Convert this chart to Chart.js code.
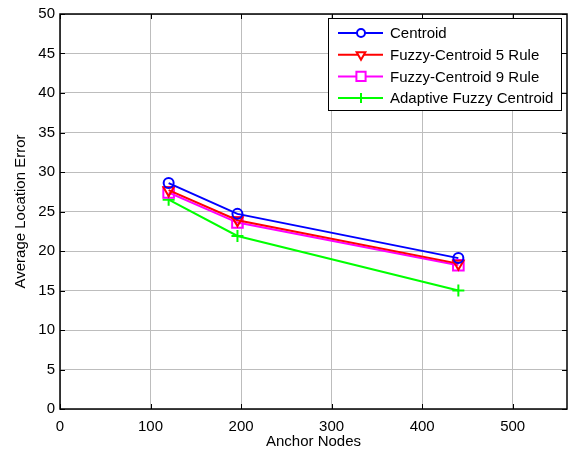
<!DOCTYPE html>
<html>
<head>
<meta charset="utf-8">
<script src="https://cdn.jsdelivr.net/npm/chart.js@4/dist/chart.umd.min.js"></script>
<style>
html,body{margin:0;padding:0;background:#fff;}
#wrap{width:577px;height:457px;position:relative;}
</style>
</head>
<body>
<div id="wrap"><canvas id="c" width="577" height="457"></canvas></div>
<script>
const anchorNodes = [120, 196, 440];
const centroid = [28.6, 24.7, 19.1];
const fuzzy5 = [27.7, 23.9, 18.4];
const fuzzy9 = [27.4, 23.6, 18.2];
const adaptive = [26.5, 21.9, 15.0];
const xTicks = [0, 100, 200, 300, 400, 500];
const yTicks = [0, 5, 10, 15, 20, 25, 30, 35, 40, 45, 50];
const seriesNames = ['Centroid', 'Fuzzy-Centroid 5 Rule', 'Fuzzy-Centroid 9 Rule', 'Adaptive Fuzzy Centroid'];

const FONT = 'Arial, "Liberation Sans", sans-serif';

function pts(vals){ return anchorNodes.map((x,i)=>({x:x,y:vals[i]})); }

const styles = [
  {color:'#0000ff', pointStyle:'circle', rotation:0, radius:5},
  {color:'#ff0000', pointStyle:'triangle', rotation:180, radius:6},
  {color:'#ff00ff', pointStyle:'rect', rotation:0, radius:7.5},
  {color:'#00ff00', pointStyle:'cross', rotation:0, radius:6}
];
const seriesVals = [centroid, fuzzy5, fuzzy9, adaptive];

const datasets = seriesVals.map((v,i)=>({
  label: seriesNames[i],
  data: pts(v),
  borderColor: styles[i].color,
  backgroundColor: 'rgba(0,0,0,0)',
  borderWidth: 2,
  pointStyle: styles[i].pointStyle,
  pointRotation: styles[i].rotation,
  pointRadius: styles[i].radius,
  pointBorderWidth: 2,
  pointBorderColor: styles[i].color,
  pointBackgroundColor: 'rgba(0,0,0,0)',
  tension: 0,
  fill: false
}));

const frame = {
  id:'frame',
  afterDraw(chart){
    const {ctx, chartArea:a} = chart;
    ctx.save();
    ctx.strokeStyle='#000'; ctx.lineWidth=1;
    const xs = chart.scales.x, ys = chart.scales.y;
    xTicks.forEach(t=>{
      const px = Math.round(xs.getPixelForValue(t))+0.5;
      ctx.beginPath(); ctx.moveTo(px,a.bottom); ctx.lineTo(px,a.bottom-5);
      ctx.moveTo(px,a.top); ctx.lineTo(px,a.top+5); ctx.stroke();
    });
    yTicks.forEach(t=>{
      const py = Math.round(ys.getPixelForValue(t))+0.5;
      ctx.beginPath(); ctx.moveTo(a.left,py); ctx.lineTo(a.left+5,py);
      ctx.moveTo(a.right,py); ctx.lineTo(a.right-5,py); ctx.stroke();
    });
    ctx.lineWidth=1.5;
    ctx.strokeRect(a.left, a.top, a.right-a.left, a.bottom-a.top);

    // legend box
    const lx = 328, ly = 18, lw = 233, lh = 92;
    ctx.fillStyle='#fff';
    ctx.fillRect(lx,ly,lw,lh);
    ctx.lineWidth=1;
    ctx.strokeStyle='#000';
    ctx.strokeRect(lx+0.5,ly+0.5,lw,lh);
    ctx.font = '15px ' + FONT;
    ctx.textBaseline='middle';
    ctx.textAlign='left';
    chart.data.datasets.forEach((ds,i)=>{
      const y = ly + 15 + i*21.7;
      ctx.strokeStyle = ds.borderColor; ctx.lineWidth=2;
      ctx.beginPath(); ctx.moveTo(lx+10,y); ctx.lineTo(lx+55,y); ctx.stroke();
      ctx.fillStyle='#fff';
      Chart.helpers.drawPoint(ctx, {pointStyle:ds.pointStyle, rotation:ds.pointRotation, radius:ds.pointRadius-1, borderWidth:2}, lx+33, y);
      ctx.fillStyle='#000';
      ctx.fillText(ds.label, lx+62, y+1);
    });
    ctx.restore();
  }
};

new Chart(document.getElementById('c'), {
  type:'line',
  data:{datasets},
  options:{
    responsive:false,
    animation:false,
    devicePixelRatio:1,
    layout:{padding:{left:0,right:10,top:10,bottom:0}},
    plugins:{legend:{display:false}, tooltip:{enabled:false}},
    scales:{
      x:{
        type:'linear', min:0, max:560,
        afterBuildTicks(s){ s.ticks = xTicks.map(v=>({value:v})); },
        afterFit(s){ s.height = 48; },
        grid:{color:'#bdbdbd', lineWidth:1, drawTicks:false},
        border:{display:false},
        ticks:{color:'#000', font:{family:FONT,size:15}, padding:9, maxRotation:0},
        title:{display:true, text:'Anchor Nodes', color:'#000', font:{family:FONT,size:15}, padding:{top:0,bottom:6}}
      },
      y:{
        type:'linear', min:0, max:50,
        afterBuildTicks(s){ s.ticks = yTicks.map(v=>({value:v})); },
        afterFit(s){ s.width = 60; },
        grid:{color:'#bdbdbd', lineWidth:1, drawTicks:false},
        border:{display:false},
        ticks:{color:'#000', font:{family:FONT,size:15}, padding:5},
        title:{display:true, text:'Average Location Error', color:'#000', font:{family:FONT,size:15}, padding:{top:12,bottom:0}}
      }
    }
  },
  plugins:[frame]
});
</script>
</body>
</html>
